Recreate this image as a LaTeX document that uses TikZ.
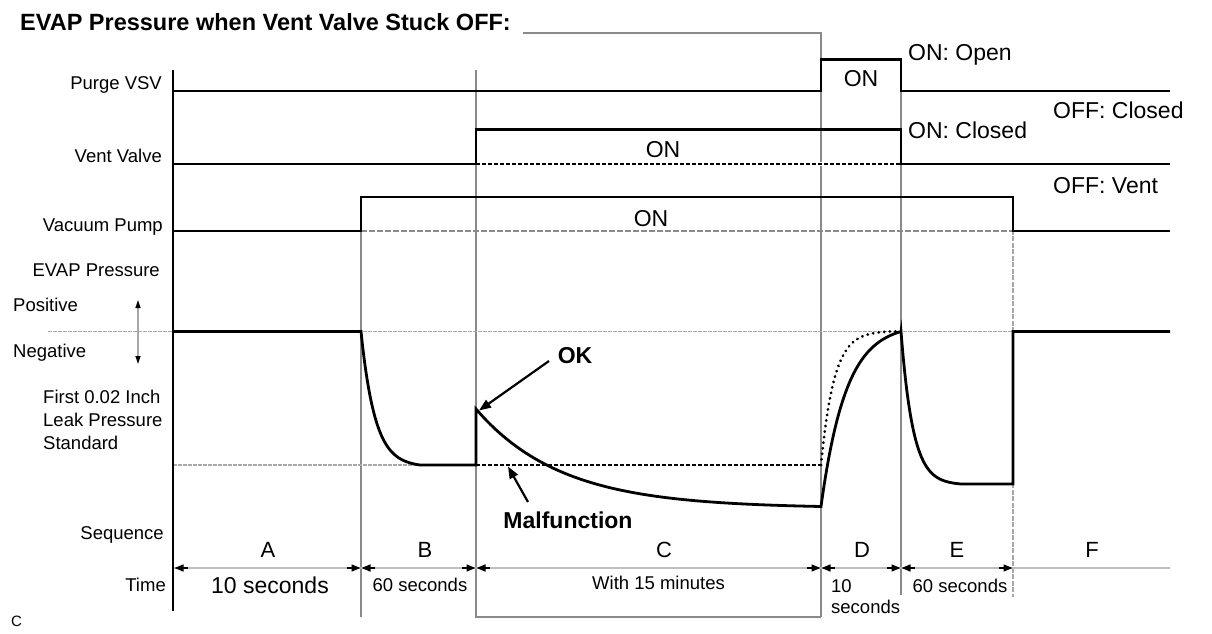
\documentclass[tikz,border=0pt]{standalone}
\usepackage{fontspec}
\setmainfont{Liberation Sans}
\usetikzlibrary{arrows.meta}
\newcommand\fsz[1]{\fontsize{#1}{#1}\selectfont}
\definecolor{guidegray}{HTML}{8A8A8A}
\definecolor{tlgray}{HTML}{BEBEBE}
\definecolor{refgray}{HTML}{A8A8A8}
\begin{document}
\begin{tikzpicture}[x=1pt,y=-1pt,
  sig/.style={line width=2.8pt,line join=miter,black},
  guide/.style={line width=1.1pt,guidegray},
  refline/.style={line width=1.4pt,refgray,dash pattern=on 4pt off 1pt},
  dashsig/.style={line width=2.6pt,black,dash pattern=on 4pt off 2pt},
  dotsig/.style={line width=3pt,black,line cap=round,dash pattern=on 0.1pt off 5.5pt},
  lab/.style={inner sep=0pt,anchor=base east,font=\fsz{18.5}},
  labw/.style={inner sep=0pt,anchor=base west,font=\fsz{18.5}},
  labc/.style={inner sep=0pt,anchor=base,font=\fsz{18.5}},
  big/.style={inner sep=0pt,anchor=base west,font=\fsz{23}},
  bigc/.style={inner sep=0pt,anchor=base,font=\fsz{23}},
  seg/.style={inner sep=0pt,anchor=base,font=\fsz{22}},
  boldc/.style={inner sep=0pt,anchor=base,font=\bfseries\fsz{23}},
  tarr/.style={-{Triangle[length=9pt,width=7pt]},line width=1.6pt,black},
  callout/.style={-{Triangle[length=12pt,width=9pt]},line width=2.2pt,black}
]
\fill[white] (0,0) rectangle (1212,634);
\useasboundingbox (0,0) rectangle (1212,634);

% title
\node[inner sep=0pt,anchor=base west,font=\bfseries\fsz{23.5}] (title) at (20,30.2) {EVAP Pressure when Vent Valve Stuck OFF:};

% guide lines
\draw[guide] (523,33) -- (821,33) -- (821,617);
\draw[guide] (361,197) -- (361,617);
\draw[guide] (476,70) -- (476,617) -- (821,617);
\draw[guide] (901,59.5) -- (901,595);
\draw[line width=1.2pt,refgray,dash pattern=on 5pt off 1.5pt] (1013,197) -- (1013,597);

% reference levels
\draw[refline] (48,331.5) -- (1170,331.5);
\draw[refline] (173,465) -- (476,465);
\draw[line width=1.2pt,guidegray,dash pattern=on 6pt off 2pt] (361,231) -- (1013,231);

% timeline
\draw[line width=2.2pt,tlgray] (173,568) -- (1170,568);
\draw[tarr] (188,568) -- (174.5,568);
\draw[tarr] (347,568) -- (360.5,568);
\draw[tarr] (375,568) -- (361.5,568);
\draw[tarr] (462,568) -- (475.5,568);
\draw[tarr] (490,568) -- (476.5,568);
\draw[tarr] (807,568) -- (820.5,568);
\draw[tarr] (835,568) -- (821.5,568);
\draw[tarr] (887,568) -- (900.5,568);
\draw[tarr] (915,568) -- (901.5,568);
\draw[tarr] (999,568) -- (1012.5,568);

% axis
\draw[line width=2.6pt] (173,70) -- (173,611);

% Purge VSV
\draw[sig] (173,91) -- (821,91) -- (821,59.5) -- (901,59.5) -- (901,91) -- (1170,91);
% Vent valve
\draw[sig] (173,164) -- (476,164) -- (476,129.5) -- (901,129.5) -- (901,164) -- (1170,164);
\draw[line width=3.2pt,white] (478,164) -- (899,164);
\draw[dashsig] (476,164) -- (901,164);
% Vacuum pump
\draw[sig] (173,231) -- (361,231) -- (361,197) -- (1013,197) -- (1013,231) -- (1170,231);

% EVAP pressure
\draw[sig] (173,331.5) -- (361,331.5)
  -- plot[domain=0:59,samples=50,variable=\t] ({361+\t},{331.5+133.5*(1-exp(-\t/14))/(1-exp(-59/14))})
  -- (476,465) -- (476,409)
  -- plot[domain=0:345,samples=70,variable=\t] ({476+\t},{409+97.5*(1-exp(-\t/85))/(1-exp(-345/85))})
  -- plot[domain=0:80,samples=50,variable=\t] ({821+\t},{506.5-175*(1-exp(-\t/25))/(1-exp(-80/25))})
  -- plot[domain=0:60,samples=50,variable=\t] ({901+\t},{331.5+152.5*(1-exp(-\t/12))/(1-exp(-60/12))})
  -- (1013,484) -- (1013,331.5) -- (1170,331.5);
\draw[dashsig] (476,465) -- (821,465);
\draw[dotsig] (821,465)
  -- plot[domain=0:69,samples=50,variable=\t] ({821+\t},{465-133.5*(1-exp(-\t/13))/(1-exp(-69/13))})
  -- (901,331.5);

% positive / negative arrow
\draw[line width=1.2pt,refgray,{Triangle[black,length=8pt,width=5pt]}-{Triangle[black,length=8pt,width=5pt]}] (138,300) -- (138,364);

% signal labels
\node[lab] (lpurge) at (162,89.6) {Purge VSV};
\node[lab] (lvent) at (162,162.6) {Vent Valve};
\node[lab] (lvac) at (163,231.6) {Vacuum Pump};
\node[lab] (levap) at (160,276.6) {EVAP Pressure};
\node[labw] (lpos) at (13,311.6) {Positive};
\node[labw] (lneg) at (13,357.6) {Negative};
\node[labw] (lfirst) at (43,403.6) {First 0.02 Inch};
\node[labw] (lleak) at (43,426.6) {Leak Pressure};
\node[labw] (lstd) at (43,449.6) {Standard};
\node[lab] (lseq) at (164,539.6) {Sequence};
\node[lab] (ltime) at (166,591.6) {Time};

% ON labels
\node[bigc] (onpurge) at (861,86.2) {ON};
\node[bigc] (onvent) at (663,157.2) {ON};
\node[bigc] (onvac) at (651,226.2) {ON};
\node[big] (onopen) at (908,60.2) {ON: Open};
\node[big] (onclosed) at (908,138.2) {ON: Closed};
\node[big] (offclosed) at (1053,118.2) {OFF: Closed};
\node[big] (offvent) at (1053,193.2) {OFF: Vent};

% OK / Malfunction
\node[boldc] (ok) at (575,363.2) {OK};
\node[boldc] (malf) at (568,528.2) {Malfunction};
\coordinate (okpeak) at (479,410.5);
\coordinate (oktail) at (549,361);
\coordinate (malpt) at (508,466.5);
\coordinate (maltail) at (528,502);
\draw[callout] (oktail) -- (okpeak);
\draw[callout] (maltail) -- (malpt);

% sequence letters
\node[seg] (sA) at (268,557.9) {A};
\node[seg] (sB) at (425,557.9) {B};
\node[seg] (sC) at (664,557.9) {C};
\node[seg] (sD) at (862,557.9) {D};
\node[seg] (sE) at (957,557.9) {E};
\node[seg] (sF) at (1092,557.9) {F};

% times
\node[bigc] (tA) at (270,593.2) {10 seconds};
\node[labc] (tB) at (420,591.6) {60 seconds};
\node[labc] (tC) at (658.5,589.6) {With 15 minutes};
\node[labw] (tD1) at (831,592.6) {10};
\node[labw] (tD2) at (831,613.6) {seconds};
\node[labc] (tE) at (960,592.6) {60 seconds};

\node[inner sep=0pt,anchor=base west,font=\fsz{15}] (corner) at (11,626.4) {C};
\end{tikzpicture}
\end{document}
